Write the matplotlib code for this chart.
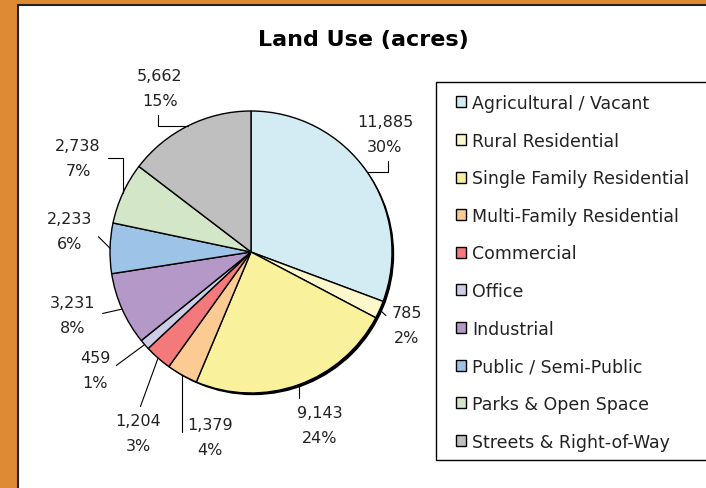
import matplotlib.pyplot as plt
import matplotlib.patches as mpatches
import numpy as np

# data
categories = ['Agricultural / Vacant', 'Rural Residential', 'Single Family Residential',
              'Multi-Family Residential', 'Commercial', 'Office', 'Industrial',
              'Public / Semi-Public', 'Parks & Open Space', 'Streets & Right-of-Way']
acres = [11885, 785, 9143, 1379, 1204, 459, 3231, 2233, 2738, 5662]
pct_labels = ['30%', '2%', '24%', '4%', '3%', '1%', '8%', '6%', '7%', '15%']
colors = ['#D3EBF2', '#FCF8CC', '#F9F19B', '#FBCB93', '#F3797A',
          '#CDCDE6', '#B398C8', '#9DC3E6', '#D3E6C8', '#BFBFBF']

W, H = 706, 489
cx, cy, R = 251, 253, 141  # pie centre / radius in pixels


def to_data(px, py):
    return (px - cx) / R, -(py - cy) / R


# label centres (pixels) and leader styles
label_px = [(385, 135), (407, 326), (320, 426), (210, 438), (138, 434),
            (95, 371), (73, 316), (70, 232), (78, 159), (160, 89)]
leader = [
    dict(relpos=(0.55, 0), connectionstyle='angle,angleA=90,angleB=0,rad=0'),
    dict(relpos=(0, 0.6), connectionstyle='arc3'),
    dict(relpos=(0.2, 1), connectionstyle='angle,angleA=0,angleB=90,rad=0'),
    dict(relpos=(0, 0.55), connectionstyle='angle,angleA=0,angleB=90,rad=0'),
    dict(relpos=(0.5, 1), connectionstyle='arc3'),
    dict(relpos=(1, 0.5), connectionstyle='arc3'),
    dict(relpos=(1, 0.5), connectionstyle='arc3'),
    dict(relpos=(1, 0.5), connectionstyle='arc3'),
    dict(relpos=(1, 0.5), connectionstyle='angle,angleA=0,angleB=90,rad=0'),
    dict(relpos=(0.45, 0), connectionstyle='angle,angleA=90,angleB=0,rad=0'),
]

plt.rcParams['font.family'] = 'DejaVu Sans'

fig = plt.figure(figsize=(W / 100, H / 100), dpi=100)
fig.patch.set_facecolor('#DE8A34')

# white panel with black border
panel = mpatches.Rectangle((18 / W, -0.1), 1.2, 1 - 6 / H + 0.1, transform=fig.transFigure,
                           facecolor='white', edgecolor='#222222', lw=1.5, zorder=-2)
fig.patches.append(panel)

# legend box (runs off the right edge)
box = mpatches.Rectangle((436 / W, 1 - 461 / H), 0.5, (461 - 83) / H, transform=fig.transFigure,
                         facecolor='white', edgecolor='black', lw=1.0, zorder=-1)
fig.patches.append(box)

ax = fig.add_axes([0, 0, 1, 1], zorder=1)
ax.patch.set_visible(False)

# shadow
shadow = mpatches.Circle((2.2 / R, -2.2 / R), 1.0, facecolor='black', edgecolor='none', zorder=0)
ax.add_patch(shadow)

wedges, _ = ax.pie(acres, colors=colors, startangle=90, counterclock=False, radius=1.0,
                   wedgeprops=dict(edgecolor='black', linewidth=1.0))

total = sum(acres)
cum = np.cumsum([0] + acres)
for i, w in enumerate(wedges):
    mid = 90 - 360 * (cum[i] + acres[i] / 2) / total
    ex, ey = np.cos(np.radians(mid)), np.sin(np.radians(mid))
    tx, ty = to_data(*label_px[i])
    ax.annotate(f'{acres[i]:,}\n{pct_labels[i]}', xy=(ex, ey), xytext=(tx, ty),
                ha='center', va='center', fontsize=11.5, color='#222222', linespacing=1.8,
                arrowprops=dict(arrowstyle='-', color='black', lw=0.8,
                                shrinkA=3, shrinkB=0, **leader[i]))

ax.set_xlim(-cx / R, (W - cx) / R)
ax.set_ylim(-(H - cy) / R, cy / R)
ax.set_aspect('auto')
ax.axis('off')

fig.text(363 / W, 1 - 40 / H, 'Land Use (acres)', ha='center', va='center',
         fontsize=16, fontweight='bold', color='black')

leg = fig.legend(wedges, categories, loc='upper left', bbox_to_anchor=(456 / W, 1 - 95 / H),
                 frameon=False, fontsize=12.5, handlelength=0.6, handleheight=0.6,
                 handletextpad=0.35, labelspacing=1.13, borderaxespad=0, borderpad=0)
for t in leg.get_texts():
    t.set_color('#222222')

fig.savefig('out.png', dpi=100, facecolor=fig.get_facecolor())
